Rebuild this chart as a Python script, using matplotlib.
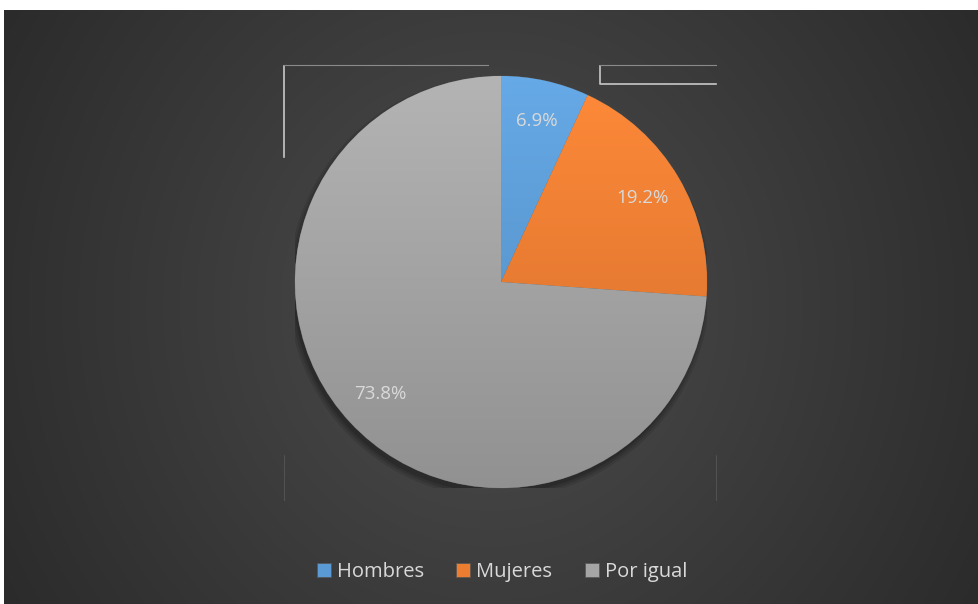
import numpy as np
import matplotlib.pyplot as plt
from matplotlib.colors import to_rgb
from matplotlib.patches import Circle

categories = ["Hombres", "Mujeres", "Por igual"]
values = [6.9, 19.2, 73.8]
colors = ["#5B9BD5", "#ED7D31", "#A5A5A5"]

plt.rcParams['font.family'] = ['Open Sans', 'DejaVu Sans']

W, H = 979, 604
fig = plt.figure(figsize=(W / 100, H / 100), dpi=100, facecolor="white")

# dark background with soft radial glow (white strip at top and left like the source)
bg = fig.add_axes([4 / W, 0, 1 - 4 / W, (H - 10) / H])
bg.set_axis_off()
yy, xx = np.mgrid[0:1:300j, 0:1:500j]
r = np.sqrt(((xx - 0.5) / 0.75) ** 2 + ((yy - 0.5) / 1.3) ** 2)
shade = np.clip(0.3 - 0.17 * r, 0.15, 0.3)
bg.imshow(np.dstack([shade] * 3), extent=[0, 1, 0, 1], aspect="auto", interpolation="bicubic")
bg.set_xlim(0, 1)
bg.set_ylim(0, 1)

# thin leftover frame lines
frame = dict(color="#c8c8c8", lw=1.2, transform=fig.transFigure)
fig.add_artist(plt.Line2D([284 / W, 284 / W], [1 - 66 / H, 1 - 157 / H], **frame))
fig.add_artist(plt.Line2D([284 / W, 488 / W], [1 - 65 / H, 1 - 65 / H], color="#8a8a8a", lw=0.8, transform=fig.transFigure))
fig.add_artist(plt.Line2D([600 / W, 600 / W, 716 / W], [1 - 66 / H, 1 - 84 / H, 1 - 84 / H], **frame))
fig.add_artist(plt.Line2D([600 / W, 716 / W], [1 - 65 / H, 1 - 65 / H], color="#8a8a8a", lw=0.8, transform=fig.transFigure))
faint = dict(color="#5c5c5c", lw=0.5, transform=fig.transFigure)
fig.add_artist(plt.Line2D([284 / W, 284 / W], [1 - 455 / H, 1 - 500 / H], **faint))
fig.add_artist(plt.Line2D([716 / W, 716 / W], [1 - 455 / H, 1 - 500 / H], **faint))

cx, cy, rad = 501, H - 282, 206
ax = fig.add_axes([(cx - rad) / W, (cy - rad) / H, 2 * rad / W, 2 * rad / H])
ax.set_axis_off()

# drop shadow under the pie
for k, a in enumerate([0.10, 0.12, 0.15]):
    ax.add_patch(Circle((-0.01, -0.025), 1.0 + 0.012 * (2 - k), color="black", alpha=a, lw=0, zorder=0))

total = sum(values)
wedges, texts, autotexts = ax.pie(
    values, colors=colors, startangle=90, counterclock=False,
    autopct=lambda p: f"{p * total / 100:.1f}%", pctdistance=0.8,
    wedgeprops=dict(edgecolor="#555555", linewidth=0.5),
    textprops=dict(color="#d9d9d9", fontsize=13.5),
)

# vertical gradient fill in each slice, lighter on top
grad = np.linspace(1, 0, 256)[:, None]
for w, c in zip(wedges, colors):
    base = np.array(to_rgb(c))
    top = np.clip(base * 1.06 + 0.02, 0, 1)
    bottom = base * 0.88
    img = top[None, None, :] * grad[..., None] + bottom[None, None, :] * (1 - grad[..., None])
    img = np.repeat(img, 2, axis=1)
    im = ax.imshow(img, extent=[-1, 1, -1, 1], aspect="auto", zorder=1.5)
    im.set_clip_path(w)
    w.set_zorder(1)
for t in autotexts:
    t.set_zorder(3)

ax.set_xlim(-1.0, 1.0)
ax.set_ylim(-1.0, 1.0)

leg = fig.legend(
    wedges, categories, loc="center", bbox_to_anchor=(502 / W, 1 - 572 / H),
    ncol=3, frameon=False, fontsize=14.5, handlelength=0.7, handleheight=0.7,
    handletextpad=0.3, columnspacing=1.6,
)
for t in leg.get_texts():
    t.set_color("#d9d9d9")

fig.savefig("out.png", dpi=100, facecolor=fig.get_facecolor())
